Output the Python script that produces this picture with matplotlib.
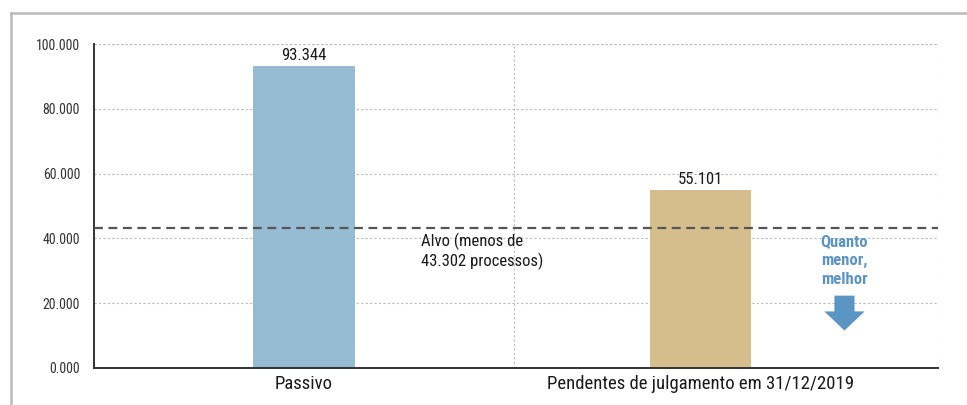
import matplotlib
matplotlib.use("Agg")
import matplotlib.pyplot as plt
from matplotlib.lines import Line2D
from matplotlib.ticker import FuncFormatter

plt.rcParams['font.family'] = ['Roboto Condensed', 'Roboto', 'DejaVu Sans']

# data
categories = ['Passivo', 'Pendentes de julgamento em 31/12/2019']
values = [93344, 55101]
value_labels = ['93.344', '55.101']
target = 43302
target_label = 'Alvo (menos de\n43.302 processos)'
yticks = [0, 20000, 40000, 60000, 80000, 100000]

bar_colors = ['#95bcd3', '#d6bd8c']
text_color = '#1a1a1a'
blue = '#5b95c4'

fig = plt.figure(figsize=(9.67, 4.05), dpi=100)
ax = fig.add_axes([0.0972, 0.0914, 0.8728, 0.7996])

xpos = [0, 1]
ax.bar(xpos, values, width=0.255, color=bar_colors, zorder=2)
for x, v, lab in zip(xpos, values, value_labels):
    ax.text(x, v + 900, lab, ha='center', va='bottom', fontsize=12, color=text_color)

ax.axhline(target, color='#555555', lw=1.6, ls=(0, (4, 2.5)), zorder=3)
ax.text(0.295, target - 1500, target_label, ha='left', va='top', fontsize=12,
        color=text_color, linespacing=1.2)

ax.text(1.364, target - 2200, 'Quanto\nmenor,\nmelhor', ha='center', va='top',
        fontsize=12, fontweight='bold', color=blue, linespacing=1.3)
ax.annotate('', xy=(1.364, 10700), xytext=(1.364, 23200),
            arrowprops=dict(arrowstyle='simple,head_width=2.0,head_length=0.95,tail_width=1.0',
                            mutation_scale=14.5, color=blue, lw=0))

ax.set_xlim(-0.53, 1.6)
ax.set_ylim(0, 100000)
ax.set_yticks(yticks)
ax.yaxis.set_major_formatter(FuncFormatter(lambda v, p: f'{v / 1000:.3f}'))
ax.set_xticks(xpos)
ax.set_xticklabels(categories, fontsize=13.5, color=text_color)
ax.tick_params(axis='y', length=0, pad=10, labelsize=10, labelcolor='#333333')
ax.tick_params(axis='x', length=0, pad=5)

ax.grid(axis='y', color='#bbbbbb', ls=(0, (2, 2)), lw=0.8, zorder=0)
for gx in [0.53, 1.6]:
    ax.axvline(gx, color='#bbbbbb', ls=(0, (2, 2)), lw=0.8, zorder=0)
ax.axhline(100000, color='#bbbbbb', ls=(0, (2, 2)), lw=0.8, zorder=0, clip_on=False)

for s in ['top', 'right']:
    ax.spines[s].set_visible(False)
for s in ['left', 'bottom']:
    ax.spines[s].set_color('#333333')
    ax.spines[s].set_linewidth(1.4)

# outer frame
fig.add_artist(Line2D([11 / 967, 11 / 967], [0, 1 - 13 / 405], color='#bbbbbb', lw=1.8))
fig.add_artist(Line2D([11 / 967, 1], [1 - 13 / 405, 1 - 13 / 405], color='#bbbbbb', lw=1.8))

fig.savefig('out.png', dpi=100)
